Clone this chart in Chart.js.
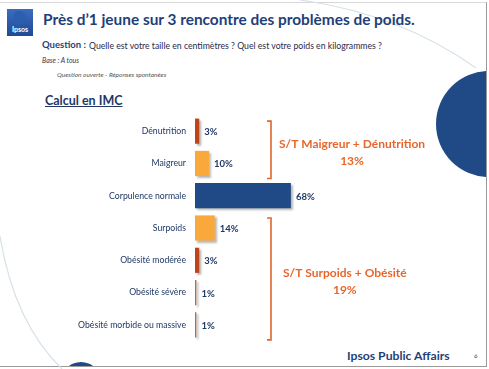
<!DOCTYPE html>
<html>
<head>
<meta charset="utf-8">
<script src="https://cdn.jsdelivr.net/npm/chart.js"></script>
<style>
  body { margin: 0; background: #fff; font-family: Lato, "Open Sans", sans-serif; }
  #page { position: relative; width: 489px; height: 369px; overflow: hidden; }
  .t { position: absolute; white-space: nowrap; }
  #frame { position: absolute; left: 0; top: 2px; width: 486px; height: 363px;
           border-top: 1px solid #d8d8d8; border-right: 1px solid #999; border-bottom: 1px solid #999; overflow: hidden; }
  .dot { position: absolute; border-radius: 50%; background: #1f4a85; }
  canvas { position: absolute; left: 0; top: 0; }
</style>
</head>
<body>
<div id="page">
  <div id="frame">
    <div class="dot" style="left:436px; top:68px; width:106px; height:106px;"></div>
    <div class="dot" style="left:61px; top:359px; width:40px; height:40px;"></div>
  </div>
  <svg class="t" width="489" height="369" style="left:0;top:0">
    <path d="M300,0 Q400,14 476,68" fill="none" stroke="#d5e2e8" stroke-width="1.2"/>
    <path d="M0,236 Q14,322 62,369" fill="none" stroke="#d5e2e8" stroke-width="1.2"/>
  </svg>
  <div class="t" style="left:7px; top:9px; width:26px; height:27px; background:linear-gradient(#3a6cc0,#1f4a95);"></div>
  <div class="t" style="left:14px; top:11px; width:11px; height:13px; border-radius:5px; background:#2a5fae;"></div>
  <div class="t" style="left:8px; top:25px; width:24px; text-align:center; color:#fff; font-size:7px; font-weight:bold;">Ipsos</div>
  <div class="t" style="left:43px; top:10px; font-size:15.4px; font-weight:bold; color:#1f3f7a;">Près d’1 jeune sur 3 rencontre des problèmes de poids.</div>
  <div class="t" style="left:42px; top:39px; font-size:9.5px; font-weight:bold; color:#1f3f7a;">Question :</div>
  <div class="t" style="left:89px; top:40px; font-size:8.7px; color:#2a2a4a;">Quelle est votre taille en centimètres ? Quel est votre poids en kilogrammes ?</div>
  <div class="t" style="left:42px; top:56px; font-size:7px; font-style:italic; color:#3a3a50;">Base : A tous</div>
  <div class="t" style="left:57px; top:71px; font-size:6.5px; font-style:italic; color:#555;">Question ouverte - Réponses spontanées</div>
  <div class="t" style="left:45px; top:93px; font-size:12.5px; font-weight:bold; color:#1f3864; text-decoration:underline;">Calcul en IMC</div>
  <div class="t" style="left:347px; top:348px; font-size:12.2px; font-weight:bold; color:#1f3f7a;">Ipsos Public Affairs</div>
  <div class="t" style="left:474px; top:352px; font-size:6px; color:#1f3f7a;">6</div>
  <canvas id="imcChart" width="489" height="369"></canvas>
</div>
<script>
const categories = ['Dénutrition', 'Maigreur', 'Corpulence normale', 'Surpoids',
                    'Obésité modérée', 'Obésité sévère', 'Obésité morbide ou massive'];
const values = [3, 10, 68, 14, 3, 1, 1];
const groupLabels = ['S/T Maigreur + Dénutrition', 'S/T Surpoids + Obésité'];
const groupValues = [13, 19];
const groupFirst = [0, 3];
const groupLast = [1, 6];

const barColors = ['#c0441a', '#f9a93c', '#1f4a85', '#f9a93c', '#c0441a', '#a8705a', '#a8705a'];

// shadow under the bars
const shadowPlugin = {
    id: 'barShadow',
    beforeDatasetsDraw(chart) {
        let ctx = chart.ctx;
        ctx.save();
        ctx.shadowColor = 'rgba(0,0,0,0.28)';
        ctx.shadowOffsetX = 2;
        ctx.shadowOffsetY = 2;
        ctx.shadowBlur = 2;
    },
    afterDatasetsDraw(chart) {
        chart.ctx.restore();
    }
};

// value labels, brackets and subtotals
const labelPlugin = {
    id: 'labels',
    afterDraw(chart) {
        let ctx = chart.ctx;
        let meta = chart.getDatasetMeta(0);
        ctx.save();
        ctx.fillStyle = '#1f3864';
        ctx.font = 'bold 9.5px Lato';
        ctx.textBaseline = 'middle';
        meta.data.forEach((bar, i) => {
            ctx.fillText(values[i] + '%', bar.x + 5, bar.y + 1);
        });

        let y = chart.scales.y;
        let bx = chart.chartArea.left + 76;
        ctx.strokeStyle = '#e0662a';
        ctx.lineWidth = 1.6;
        ctx.fillStyle = '#e8662c';
        for (let g = 0; g < groupLabels.length; g++) {
            let top = y.getPixelForValue(groupFirst[g]) - 10;
            let bottom = y.getPixelForValue(groupLast[g]) + 15;
            ctx.beginPath();
            ctx.moveTo(bx - 4, top);
            ctx.lineTo(bx, top);
            ctx.lineTo(bx, bottom);
            ctx.lineTo(bx - 4, bottom);
            ctx.stroke();

            ctx.font = 'bold 12px Lato';
            let w = ctx.measureText(groupLabels[g]).width;
            let cx = bx + (g === 0 ? 8 : 12) + w / 2;
            let mid = (top + bottom) / 2 + 2;
            ctx.textAlign = 'center';
            ctx.fillText(groupLabels[g], cx, mid - 8);
            ctx.fillText(groupValues[g] + '%', cx, mid + 9);
        }
        ctx.restore();
    }
};

new Chart(document.getElementById('imcChart'), {
    type: 'bar',
    data: {
        labels: categories,
        datasets: [{
            data: values,
            backgroundColor: barColors,
            barPercentage: 0.78,
            categoryPercentage: 1
        }]
    },
    options: {
        indexAxis: 'y',
        responsive: false,
        animation: false,
        layout: { padding: { left: 0, top: 115, right: 153, bottom: 28 } },
        plugins: { legend: { display: false }, tooltip: { enabled: false } },
        scales: {
            x: { display: false, min: 0, max: 100 },
            y: {
                grid: { display: false },
                border: { display: false },
                afterFit(scale) { scale.width = 195; },
                ticks: { color: '#1f3864', font: { family: 'Lato', size: 8.7 }, padding: 1 }
            }
        }
    },
    plugins: [shadowPlugin, labelPlugin]
});
</script>
</body>
</html>
